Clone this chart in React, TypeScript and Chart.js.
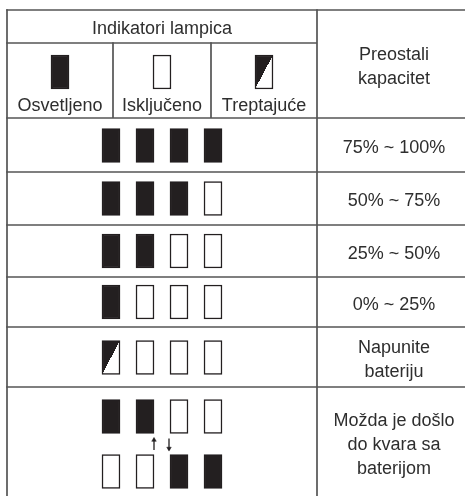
import React, { useEffect, useRef } from "react";
import { Chart, registerables } from "chart.js";

Chart.register(...registerables);

// ---------- data ----------
const headerTitle = ["Indikatori lampica"];
const capacityHeader = ["Preostali", "kapacitet"];
const legendLabels = ["Osvetljeno", "Isključeno", "Treptajuće"];
const legendStates = ["on", "off", "blink"];
const capacityLabels = [
  ["75% ~ 100%"],
  ["50% ~ 75%"],
  ["25% ~ 50%"],
  ["0% ~ 25%"],
  ["Napunite", "bateriju"],
  ["Možda je došlo", "do kvara sa", "baterijom"],
];
const lampRows = [
  ["on", "on", "on", "on"],
  ["on", "on", "on", "off"],
  ["on", "on", "off", "off"],
  ["on", "off", "off", "off"],
  ["blink", "off", "off", "off"],
];
const faultRowUpper = ["on", "on", "off", "off"];
const faultRowLower = ["off", "off", "on", "on"];
const faultArrows = ["up", "down"];

// ---------- layout ----------
const W = 465;
const H = 496;
const TABLE_LEFT = 7;
const TABLE_RIGHT = 471;
const COL_SPLIT = 317;
const LEGEND_COLS = [7, 113, 211, 317];
const ROW_TOP = 10;
const HEADER_SPLIT = 43;
const LEGEND_BOTTOM = 118;
const BODY_ROWS = [118, 172, 225, 277, 327, 387, 498];
const LAMP_X = [111, 145, 179, 213];
const LAMP_W = 18;
const LAMP_H = 34;
const LEGEND_ICON_Y = 72;
const LEGEND_LABEL_BASE = 110.5;
const LAMP_CENTER_Y = [145.5, 198.5, 251, 302, 357.5];
const FAULT_Y = [416.5, 471.5];
const ARROW_X = [154, 169];
const ARROW_Y = [438.5, 450];
const LINE_H = 24;
const BASE_OFF = 7.5;
const RIGHT_CX = (COL_SPLIT + TABLE_RIGHT) / 2;

// ---------- styles ----------
const LAMP = "#231f20";
const GRID = "#555555";
const TEXT = "#2e2e2e";
const FONT = '18px "Liberation Sans", Arial, sans-serif';

type Pt = { x: number; y: number[] };

function lamp(x: number, cy: number): Pt {
  return { x, y: [cy - LAMP_H / 2, cy + LAMP_H / 2] };
}

const lampsByState: Record<string, Pt[]> = { on: [], off: [], blink: [] };
legendStates.forEach((s, i) => {
  lampsByState[s].push(lamp((LEGEND_COLS[i] + LEGEND_COLS[i + 1]) / 2, LEGEND_ICON_Y));
});
lampRows.forEach((row, r) => {
  row.forEach((s, c) => lampsByState[s].push(lamp(LAMP_X[c], LAMP_CENTER_Y[r])));
});
faultRowUpper.forEach((s, c) => lampsByState[s].push(lamp(LAMP_X[c], FAULT_Y[0])));
faultRowLower.forEach((s, c) => lampsByState[s].push(lamp(LAMP_X[c], FAULT_Y[1])));

const hSegments: number[][] = [
  [ROW_TOP, TABLE_LEFT, TABLE_RIGHT],
  [HEADER_SPLIT, TABLE_LEFT, COL_SPLIT],
  ...BODY_ROWS.map((y) => [y, TABLE_LEFT, TABLE_RIGHT]),
];
const vSegments: number[][] = [
  [TABLE_LEFT, ROW_TOP, BODY_ROWS[BODY_ROWS.length - 1]],
  [COL_SPLIT, ROW_TOP, BODY_ROWS[BODY_ROWS.length - 1]],
  [TABLE_RIGHT, ROW_TOP, BODY_ROWS[BODY_ROWS.length - 1]],
  [LEGEND_COLS[1], HEADER_SPLIT, LEGEND_BOTTOM],
  [LEGEND_COLS[2], HEADER_SPLIT, LEGEND_BOTTOM],
];

const blinkFill = (c: any) => {
  const raw = c.raw as Pt | undefined;
  const chart = c.chart;
  const xs = chart?.scales?.x;
  const ys = chart?.scales?.y;
  if (!raw || !xs || !ys || !raw.y) return LAMP;
  const cx = xs.getPixelForValue(raw.x);
  const a = ys.getPixelForValue(raw.y[0]);
  const b = ys.getPixelForValue(raw.y[1]);
  if (![cx, a, b].every((v) => Number.isFinite(v))) return LAMP;
  const L = cx - LAMP_W / 2;
  const R = cx + LAMP_W / 2;
  const top = Math.min(a, b);
  const bot = Math.max(a, b);
  const w = R - L;
  const h = bot - top;
  const mx = (L + R) / 2;
  const my = (top + bot) / 2;
  const n = Math.hypot(w, h) || 1;
  const ux = h / n;
  const uy = w / n;
  const k = n / 2;
  const g = chart.ctx.createLinearGradient(mx - ux * k, my - uy * k, mx + ux * k, my + uy * k);
  g.addColorStop(0, LAMP);
  g.addColorStop(0.5, LAMP);
  g.addColorStop(0.5, "#ffffff");
  g.addColorStop(1, "#ffffff");
  return g;
};

const textPlugin = {
  id: "tableText",
  afterDatasetsDraw(chart: any) {
    const { ctx } = chart;
    const xs = chart.scales.x;
    const ys = chart.scales.y;
    ctx.save();
    ctx.fillStyle = TEXT;
    ctx.font = FONT;
    ctx.textAlign = "center";
    ctx.textBaseline = "alphabetic";
    const draw = (lines: string[], cx: number, cy: number) => {
      lines.forEach((t, i) => {
        const yy = ys.getPixelForValue(cy + (i - (lines.length - 1) / 2) * LINE_H) + BASE_OFF;
        ctx.fillText(t, xs.getPixelForValue(cx), yy);
      });
    };
    draw(headerTitle, (TABLE_LEFT + COL_SPLIT) / 2, (ROW_TOP + HEADER_SPLIT) / 2);
    draw(capacityHeader, RIGHT_CX, (ROW_TOP + LEGEND_BOTTOM) / 2);
    legendLabels.forEach((l, i) => {
      ctx.fillText(
        l,
        xs.getPixelForValue((LEGEND_COLS[i] + LEGEND_COLS[i + 1]) / 2),
        ys.getPixelForValue(LEGEND_LABEL_BASE)
      );
    });
    capacityLabels.forEach((lines, i) => {
      draw(lines, RIGHT_CX, (BODY_ROWS[i] + BODY_ROWS[i + 1]) / 2);
    });
    ctx.restore();
  },
};

export default function App() {
  const ref = useRef<HTMLCanvasElement>(null);
  useEffect(() => {
    document.body.style.margin = "0";
    const datasets: any[] = [];
    hSegments.forEach(([y, x1, x2]) =>
      datasets.push({
        type: "scatter",
        data: [{ x: x1 - 0.8, y }, { x: x2, y }],
        showLine: true,
        borderColor: GRID,
        borderWidth: 1.7,
        pointRadius: 0,
        order: 5,
      })
    );
    vSegments.forEach(([x, y1, y2]) =>
      datasets.push({
        type: "scatter",
        data: [{ x, y: y1 - 0.8 }, { x, y: y2 }],
        showLine: true,
        borderColor: GRID,
        borderWidth: 1.7,
        pointRadius: 0,
        order: 5,
      })
    );
    const barBase = {
      type: "bar",
      barThickness: LAMP_W,
      grouped: false,
      borderSkipped: false,
      borderWidth: 1.5,
      borderColor: LAMP,
      order: 1,
    };
    datasets.push({ ...barBase, label: "Osvetljeno", data: lampsByState.on, backgroundColor: LAMP });
    datasets.push({ ...barBase, label: "Isključeno", data: lampsByState.off, backgroundColor: "#ffffff" });
    datasets.push({ ...barBase, label: "Treptajuće", data: lampsByState.blink, backgroundColor: blinkFill });
    faultArrows.forEach((dir, i) => {
      datasets.push({
        type: "scatter",
        data: [{ x: ARROW_X[i], y: ARROW_Y[0] }, { x: ARROW_X[i], y: ARROW_Y[1] }],
        showLine: true,
        borderColor: LAMP,
        borderWidth: 1.3,
        pointRadius: 0,
        order: 2,
      });
      datasets.push({
        type: "scatter",
        data: [{ x: ARROW_X[i], y: dir === "up" ? ARROW_Y[0] + 1.5 : ARROW_Y[1] - 1.5 }],
        pointStyle: "triangle",
        rotation: dir === "up" ? 0 : 180,
        pointRadius: 2.6,
        backgroundColor: LAMP,
        borderColor: LAMP,
        borderWidth: 0.5,
        order: 2,
      });
    });

    const chart = new Chart(ref.current as HTMLCanvasElement, {
      type: "scatter",
      data: { datasets },
      options: {
        animation: false,
        responsive: false,
        devicePixelRatio: 1,
        events: [],
        layout: { padding: 0, autoPadding: false },
        plugins: {
          legend: { display: false },
          tooltip: { enabled: false },
          title: { display: false },
        },
        scales: {
          x: { type: "linear", min: 0, max: W, display: false, offset: false, grace: 0 },
          y: { type: "linear", min: 0, max: H, reverse: true, display: false, offset: false, grace: 0 },
        },
      } as any,
      plugins: [textPlugin],
    } as any);
    return () => chart.destroy();
  }, []);
  return (
    <div style={{ width: W, height: H, background: "#ffffff" }}>
      <canvas ref={ref} width={W} height={H} style={{ display: "block", width: W, height: H }} />
    </div>
  );
}
